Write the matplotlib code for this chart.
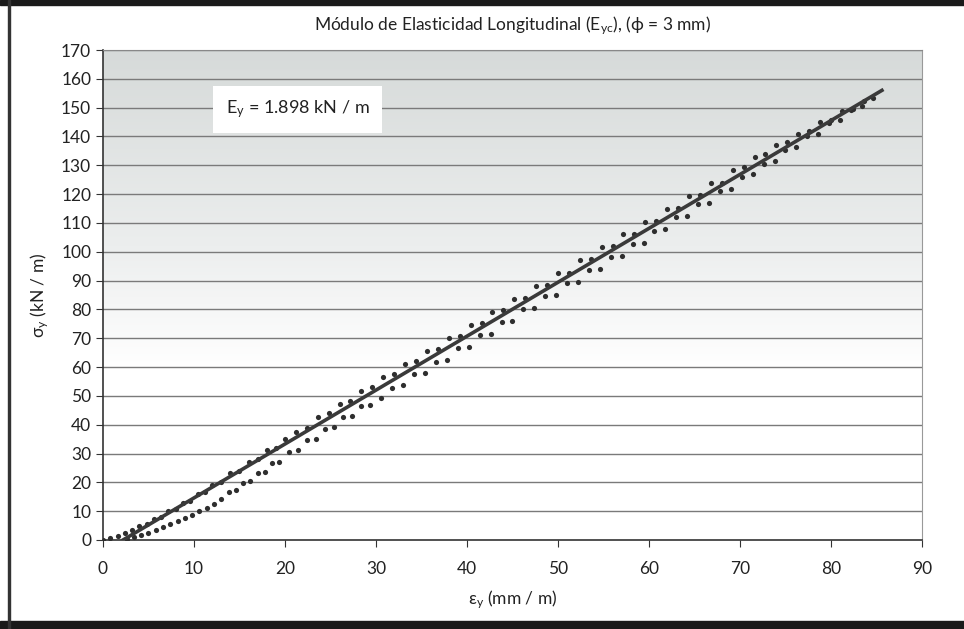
import numpy as np
import matplotlib.pyplot as plt
from matplotlib.patches import Rectangle
from matplotlib.colors import LinearSegmentedColormap

plt.rcParams['font.family'] = ['Lato', 'DejaVu Sans']
plt.rcParams['mathtext.fontset'] = 'custom'
plt.rcParams['mathtext.rm'] = 'Lato'
plt.rcParams['mathtext.it'] = 'Lato'

# loading branch (upper dots)
eps_carga = [0.0, 0.8, 1.6, 2.4, 3.2, 4.0, 4.8, 5.6, 6.4, 7.2, 8.0, 8.8, 9.6, 10.4, 11.2,
             12.0, 13.0, 14.0, 15.0, 16.0, 17.0, 18.0, 19.0, 20.0, 21.2, 22.4, 23.6, 24.8,
             26.0, 27.2, 28.4, 29.6, 30.8, 32.0, 33.2, 34.4, 35.6, 36.8, 38.0, 39.2, 40.4,
             41.6, 42.8, 44.0, 45.2, 46.4, 47.6, 48.8, 50.0, 51.2, 52.4, 53.6, 54.8, 56.0,
             57.2, 58.4, 59.6, 60.8, 62.0, 63.2, 64.4, 65.6, 66.8, 68.0, 69.2, 70.4, 71.6,
             72.8, 74.0, 75.2, 76.4, 77.6, 78.8, 80.0, 81.2, 82.4, 83.6, 84.6]
sig_carga = [0.0, 0.8, 1.4, 2.6, 3.3, 4.8, 5.5, 7.3, 8.0, 9.9, 10.6, 12.8, 13.5, 15.9, 16.6,
             19.2, 20.1, 23.1, 24.0, 27.2, 28.1, 31.2, 32.0, 35.1, 37.4, 39.0, 42.5, 44.1,
             47.3, 48.2, 51.8, 53.0, 56.6, 57.5, 61.2, 62.0, 65.6, 66.4, 70.1, 70.9, 74.5,
             75.2, 79.0, 79.8, 83.6, 84.0, 88.1, 88.5, 92.6, 92.8, 97.2, 97.4, 101.6, 101.9,
             106.0, 106.3, 110.4, 110.8, 114.7, 115.2, 119.3, 119.6, 123.7, 124.0, 128.2,
             129.4, 132.8, 134.0, 137.2, 138.0, 141.0, 141.8, 144.9, 145.8, 148.7, 149.6,
             152.4, 153.5]

# unloading / reloading branch (lower dots)
eps_descarga = [2.6, 3.4, 4.2, 5.0, 5.8, 6.6, 7.4, 8.2, 9.0, 9.8, 10.6, 11.4, 12.2, 13.0,
                13.8, 14.6, 15.4, 16.2, 17.0, 17.8, 18.6, 19.4, 20.4, 21.4, 22.4, 23.4,
                24.4, 25.4, 26.4, 27.4, 28.4, 29.4, 30.6, 31.8, 33.0, 34.2, 35.4, 36.6,
                37.8, 39.0, 40.2, 41.4, 42.6, 43.8, 45.0, 46.2, 47.4, 48.6, 49.8, 51.0,
                52.2, 53.4, 54.6, 55.8, 57.0, 58.2, 59.4, 60.6, 61.8, 63.0, 64.2, 65.4,
                66.6, 67.8, 69.0, 70.2, 71.4, 72.6, 73.8, 75.0, 76.2, 77.4, 78.6, 79.8,
                81.0, 82.2, 83.4]
sig_descarga = [0.2, 0.9, 1.7, 2.6, 3.5, 4.5, 5.5, 6.6, 7.7, 8.8, 10.0, 11.2, 12.4, 14.2,
                16.6, 17.2, 19.9, 20.4, 23.3, 23.6, 26.7, 27.0, 30.6, 31.2, 34.6, 35.1,
                38.6, 39.1, 42.5, 43.0, 46.5, 46.9, 49.2, 52.9, 53.8, 57.6, 58.1, 61.9,
                62.6, 66.5, 67.1, 71.0, 71.4, 75.6, 76.1, 80.0, 80.4, 84.7, 85.0, 89.1,
                89.5, 93.6, 94.0, 98.2, 98.5, 102.6, 103.1, 107.3, 107.8, 111.9, 112.3,
                116.5, 117.0, 121.2, 121.8, 125.8, 126.9, 130.6, 131.5, 135.3, 136.2,
                140.0, 141.0, 144.6, 145.8, 149.3, 150.6]

# fitted line
eps_ajuste = [2.2, 85.6]
sig_ajuste = [0.0, 156.0]

xticks = list(range(0, 91, 10))
yticks = list(range(0, 171, 10))

fig = plt.figure(figsize=(9.64, 6.29), dpi=100)
ax = fig.add_axes([0.1068, 0.1415, 0.8496, 0.7790])

# gradient background
cmap = LinearSegmentedColormap.from_list('bg', [(0.0, '#ffffff'), (0.35, '#ffffff'),
                                               (0.6, '#eceeee'), (1.0, '#d6dad9')])
grad = np.linspace(0, 1, 256).reshape(-1, 1)
ax.imshow(grad, cmap=cmap, aspect='auto', origin='lower',
          extent=[0, 90, 0, 170], zorder=0)

for yv in yticks[1:]:
    ax.axhline(yv, color='#7a7a7a', lw=1.0, zorder=1)

ax.scatter(eps_carga, sig_carga, s=14, color='#2e2e2e', zorder=3, linewidths=0)
ax.scatter(eps_descarga, sig_descarga, s=14, color='#2e2e2e', zorder=3, linewidths=0)
ax.plot(eps_ajuste, sig_ajuste, color='#3a3a3a', lw=2.6, zorder=4)

ax.set_xlim(0, 90)
ax.set_ylim(0, 170)
ax.set_xticks(xticks)
ax.set_yticks(yticks)
ax.tick_params(axis='both', labelsize=12.5, color='#333333', length=5,
               labelcolor='#222222', direction='out')
ax.tick_params(axis='x', pad=10)

ax.spines['left'].set_color('#333333')
ax.spines['bottom'].set_color('#333333')
ax.spines['left'].set_linewidth(1.2)
ax.spines['bottom'].set_linewidth(1.2)
ax.spines['right'].set_color('#999999')
ax.spines['top'].set_color('#888888')

ax.set_title('Módulo de Elasticidad Longitudinal (E$_{yc}$), (ϕ = 3 mm)',
             fontsize=12.5, color='#222222', pad=14)
ax.set_xlabel('ε$_y$ (mm / m)', fontsize=12.5, color='#222222', labelpad=8)
ax.set_ylabel('σ$_y$ (kN / m)', fontsize=12.5, color='#222222', labelpad=7)

ax.text(21.4, 149.5, 'E$_y$ = 1.898 kN / m', fontsize=13, color='#222222',
        ha='center', va='center', zorder=5,
        bbox=dict(boxstyle='square,pad=0.7', facecolor='white', edgecolor='none'))

# outer frame
fig.patches.append(Rectangle((0, 0.992), 1, 0.008, transform=fig.transFigure,
                             color='#1a1a1a', zorder=10))
fig.patches.append(Rectangle((0, 0), 1, 0.012, transform=fig.transFigure,
                             color='#1a1a1a', zorder=10))
fig.patches.append(Rectangle((0.0085, 0), 0.0018, 1, transform=fig.transFigure,
                             color='#333333', zorder=10))

fig.savefig('out.png', dpi=100)
